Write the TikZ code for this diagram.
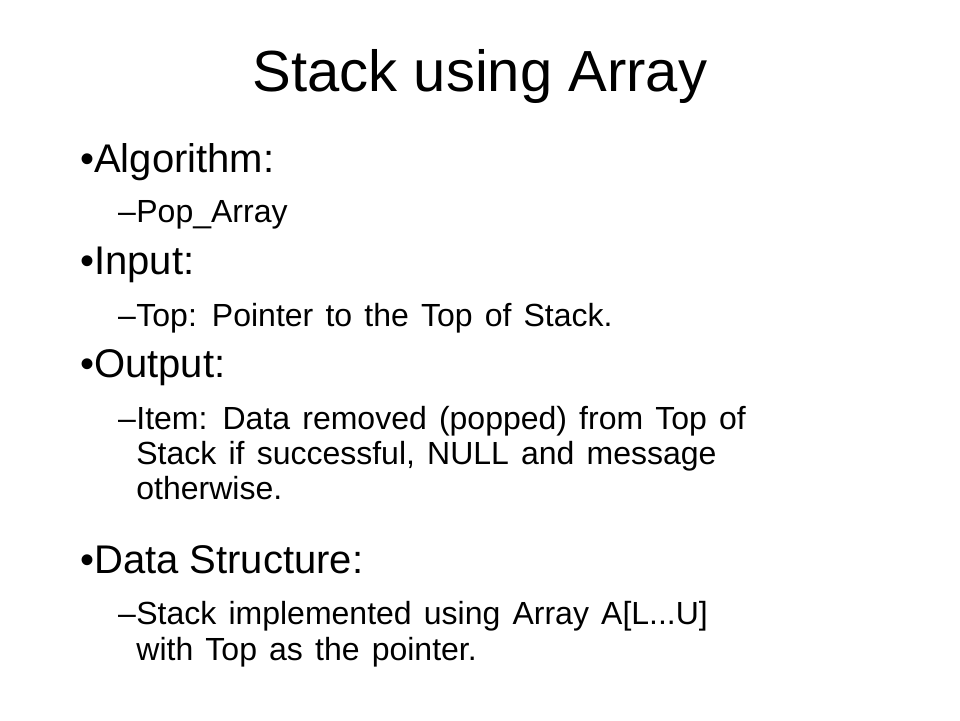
\documentclass[tikz,border=0pt]{standalone}
\usepackage{fontspec}
\setmainfont{Liberation Sans}
\newcommand{\mysubfont}{\fontsize{32}{36}\selectfont\spaceskip=0.38em plus 0.1em\relax}
\begin{document}
\begin{tikzpicture}[x=1pt,y=-1pt,
  head/.style={anchor=base west,inner sep=0pt,font=\fontsize{40}{44}\selectfont},
  sub/.style={anchor=base west,inner sep=0pt,font=\mysubfont},
  ttl/.style={anchor=base,inner sep=0pt,font=\fontsize{58}{64}\selectfont}]
\useasboundingbox[fill=white] (0,0) rectangle (960,720);
\node[ttl] (title) at (480,91) {Stack using Array};
\node[head] (h1) at (80,172) {•Algorithm:};
\node[sub] (s1d) at (118,222) {–};
\node[sub] (s1) at (s1d.base east) {Pop\_Array};
\node[head] (h2) at (80,274) {•Input:};
\node[sub] (s2d) at (118,326) {–};
\node[sub] (s2) at (s2d.base east) {Top: Pointer to the Top of Stack.};
\node[head] (h3) at (80,377) {•Output:};
\node[sub] (s3d) at (118,429) {–};
\node[sub] (s3a) at (s3d.base east) {Item: Data removed (popped) from Top of};
\node[sub] (s3b) at ([yshift=-35]s3a.base west) {Stack if successful, NULL and message};
\node[sub] (s3c) at ([yshift=-35]s3b.base west) {otherwise.};
\node[head] (h4) at (80,573) {•Data Structure:};
\node[sub] (s4d) at (118,624) {–};
\node[sub] (s4a) at (s4d.base east) {Stack implemented using Array A[L...U]};
\node[sub] (s4b) at ([yshift=-36]s4a.base west) {with Top as the pointer.};
\end{tikzpicture}
\end{document}
